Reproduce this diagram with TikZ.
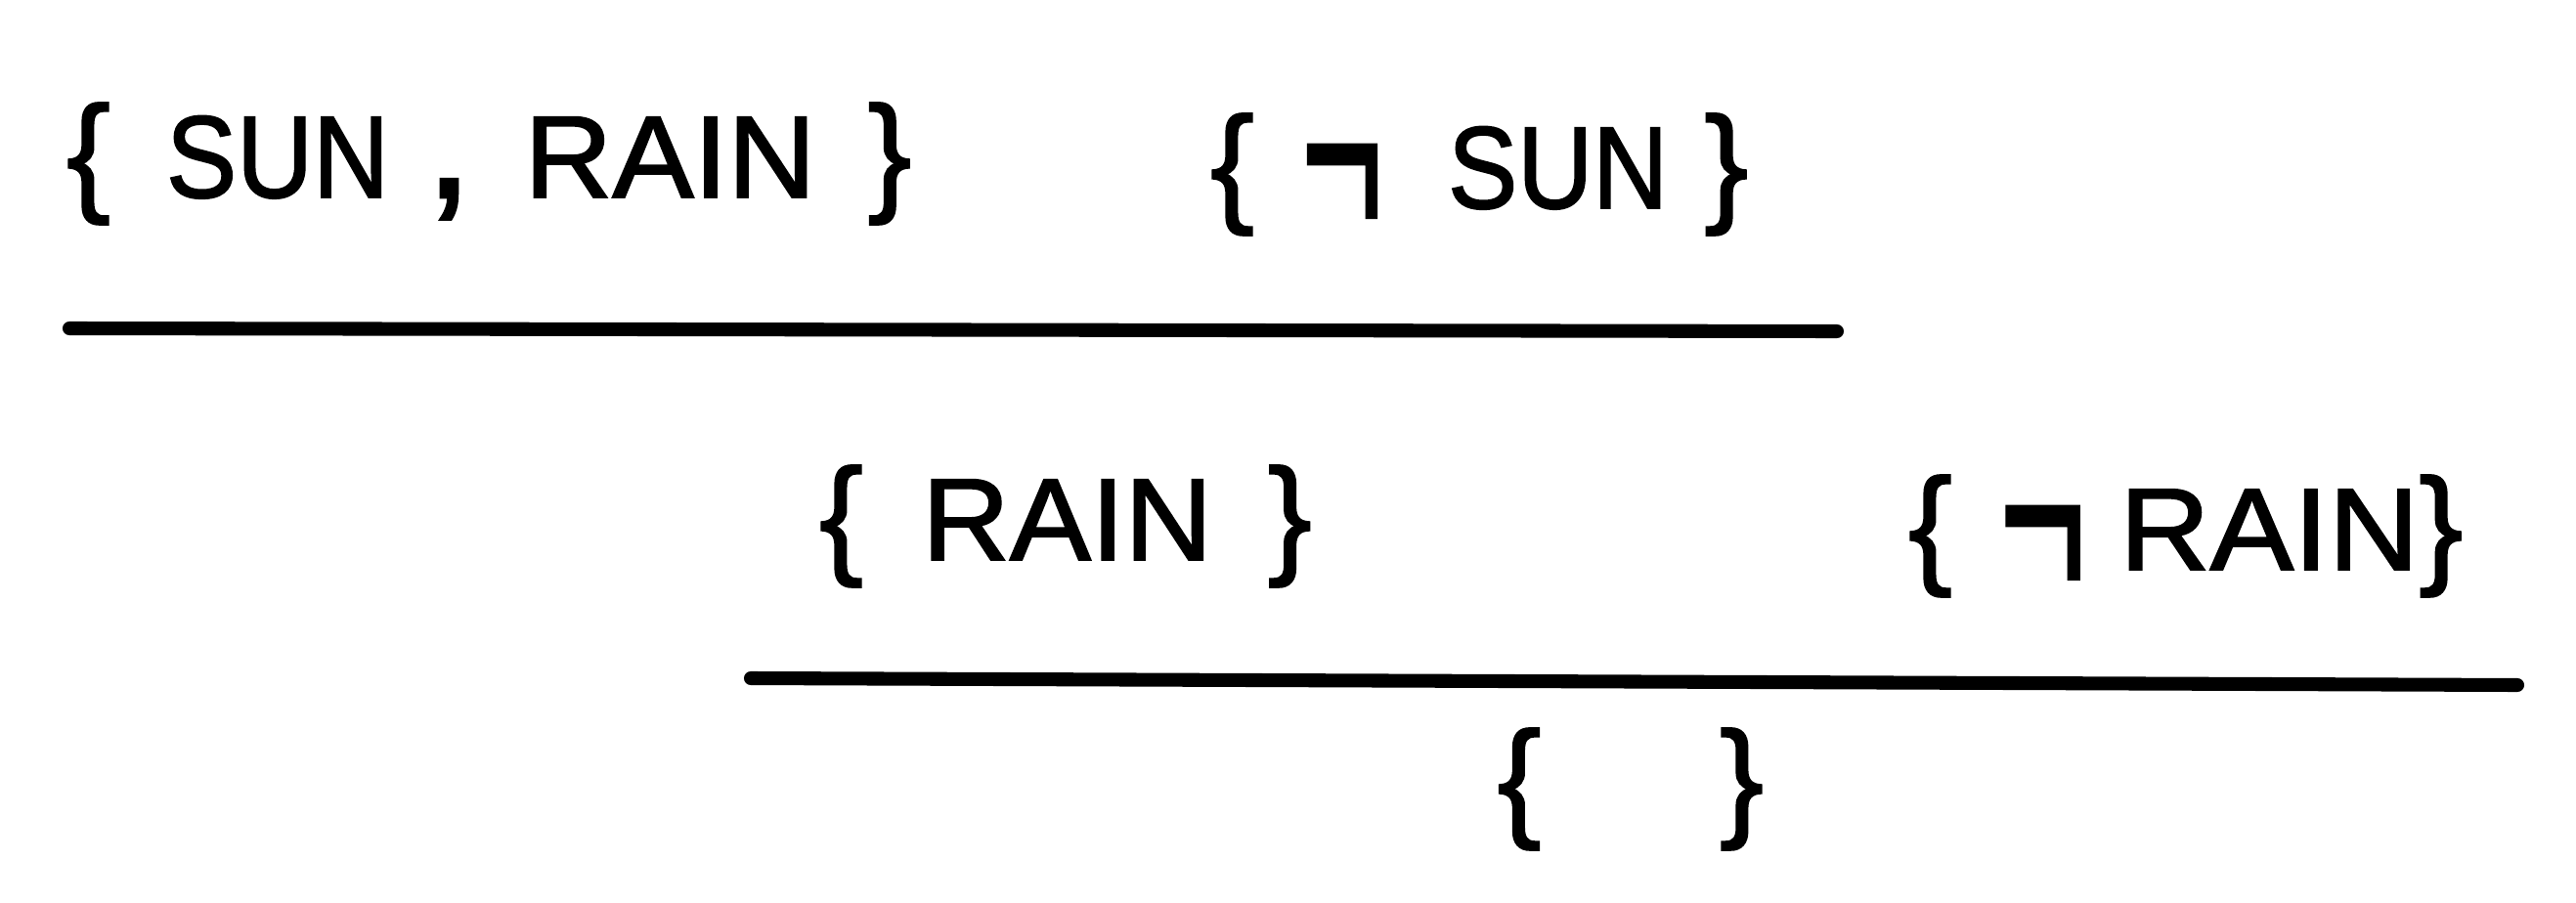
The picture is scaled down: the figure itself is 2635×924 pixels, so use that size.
\documentclass[tikz,border=0pt]{standalone}
\usepackage{fontspec}
\setmainfont[FakeBold=1.6]{Liberation Sans}
\usepackage{graphicx}
\newcommand\brc[2]{\makebox[#1cm][c]{\fontsize{38}{38}\selectfont#2}}
\newcommand\wrd[2]{\resizebox{#1cm}{\height}{\fontsize{34}{34}\selectfont #2}}
\newcommand\ngt[1]{\raisebox{-0.32cm}{\resizebox{#1cm}{1.55\height}{\fontsize{48}{48}\selectfont ¬}}}
\newcommand\gap[1]{\hspace*{#1cm}}
\newcommand\cma[1]{\makebox[#1cm][c]{\fontsize{50}{50}\selectfont ,}}
\tikzset{
  setnode/.style={anchor=base west, inner sep=0pt, outer sep=0pt},
  rule/.style={line width=4pt, line cap=round, black}
}
\begin{document}
\begin{tikzpicture}[x=0.01cm, y=-0.01cm]
\useasboundingbox (0,0) rectangle (2635,924);
% premises
\node[setnode] (sunrain) at (67,202)
  {\brc{0.47}{\{}\gap{0.56}\wrd{2.28}{SUN}\gap{0.51}\cma{0.20}\gap{0.67}\wrd{2.98}{RAIN}\gap{0.52}\brc{0.47}{\}}};
\node[setnode] (notsun) at (1235,213)
  {\brc{0.51}{\{}\gap{0.45}\ngt{0.84}\gap{0.66}\wrd{2.25}{SUN}\gap{0.35}\brc{0.49}{\}}};
\coordinate (l1a) at (71,336);
\coordinate (l1b) at (1879,339);
\draw[rule] (l1a) -- (l1b);
% second step
\node[setnode] (rain) at (835,573)
  {\brc{0.51}{\{}\gap{0.57}\wrd{2.97}{RAIN}\gap{0.54}\brc{0.50}{\}}};
\node[setnode] (notrain) at (1949,583)
  {\brc{0.51}{\{}\gap{0.45}\ngt{0.89}\gap{0.34}\wrd{3.06}{RAIN}\gap{-0.02}\brc{0.49}{\}}};
\coordinate (l2a) at (768,694);
\coordinate (l2b) at (2575,701);
\draw[rule] (l2a) -- (l2b);
% empty clause
\node[setnode] (empty) at (1533,842)
  {\brc{0.42}{\{}\gap{1.81}\brc{0.51}{\}}};
\end{tikzpicture}
\end{document}
